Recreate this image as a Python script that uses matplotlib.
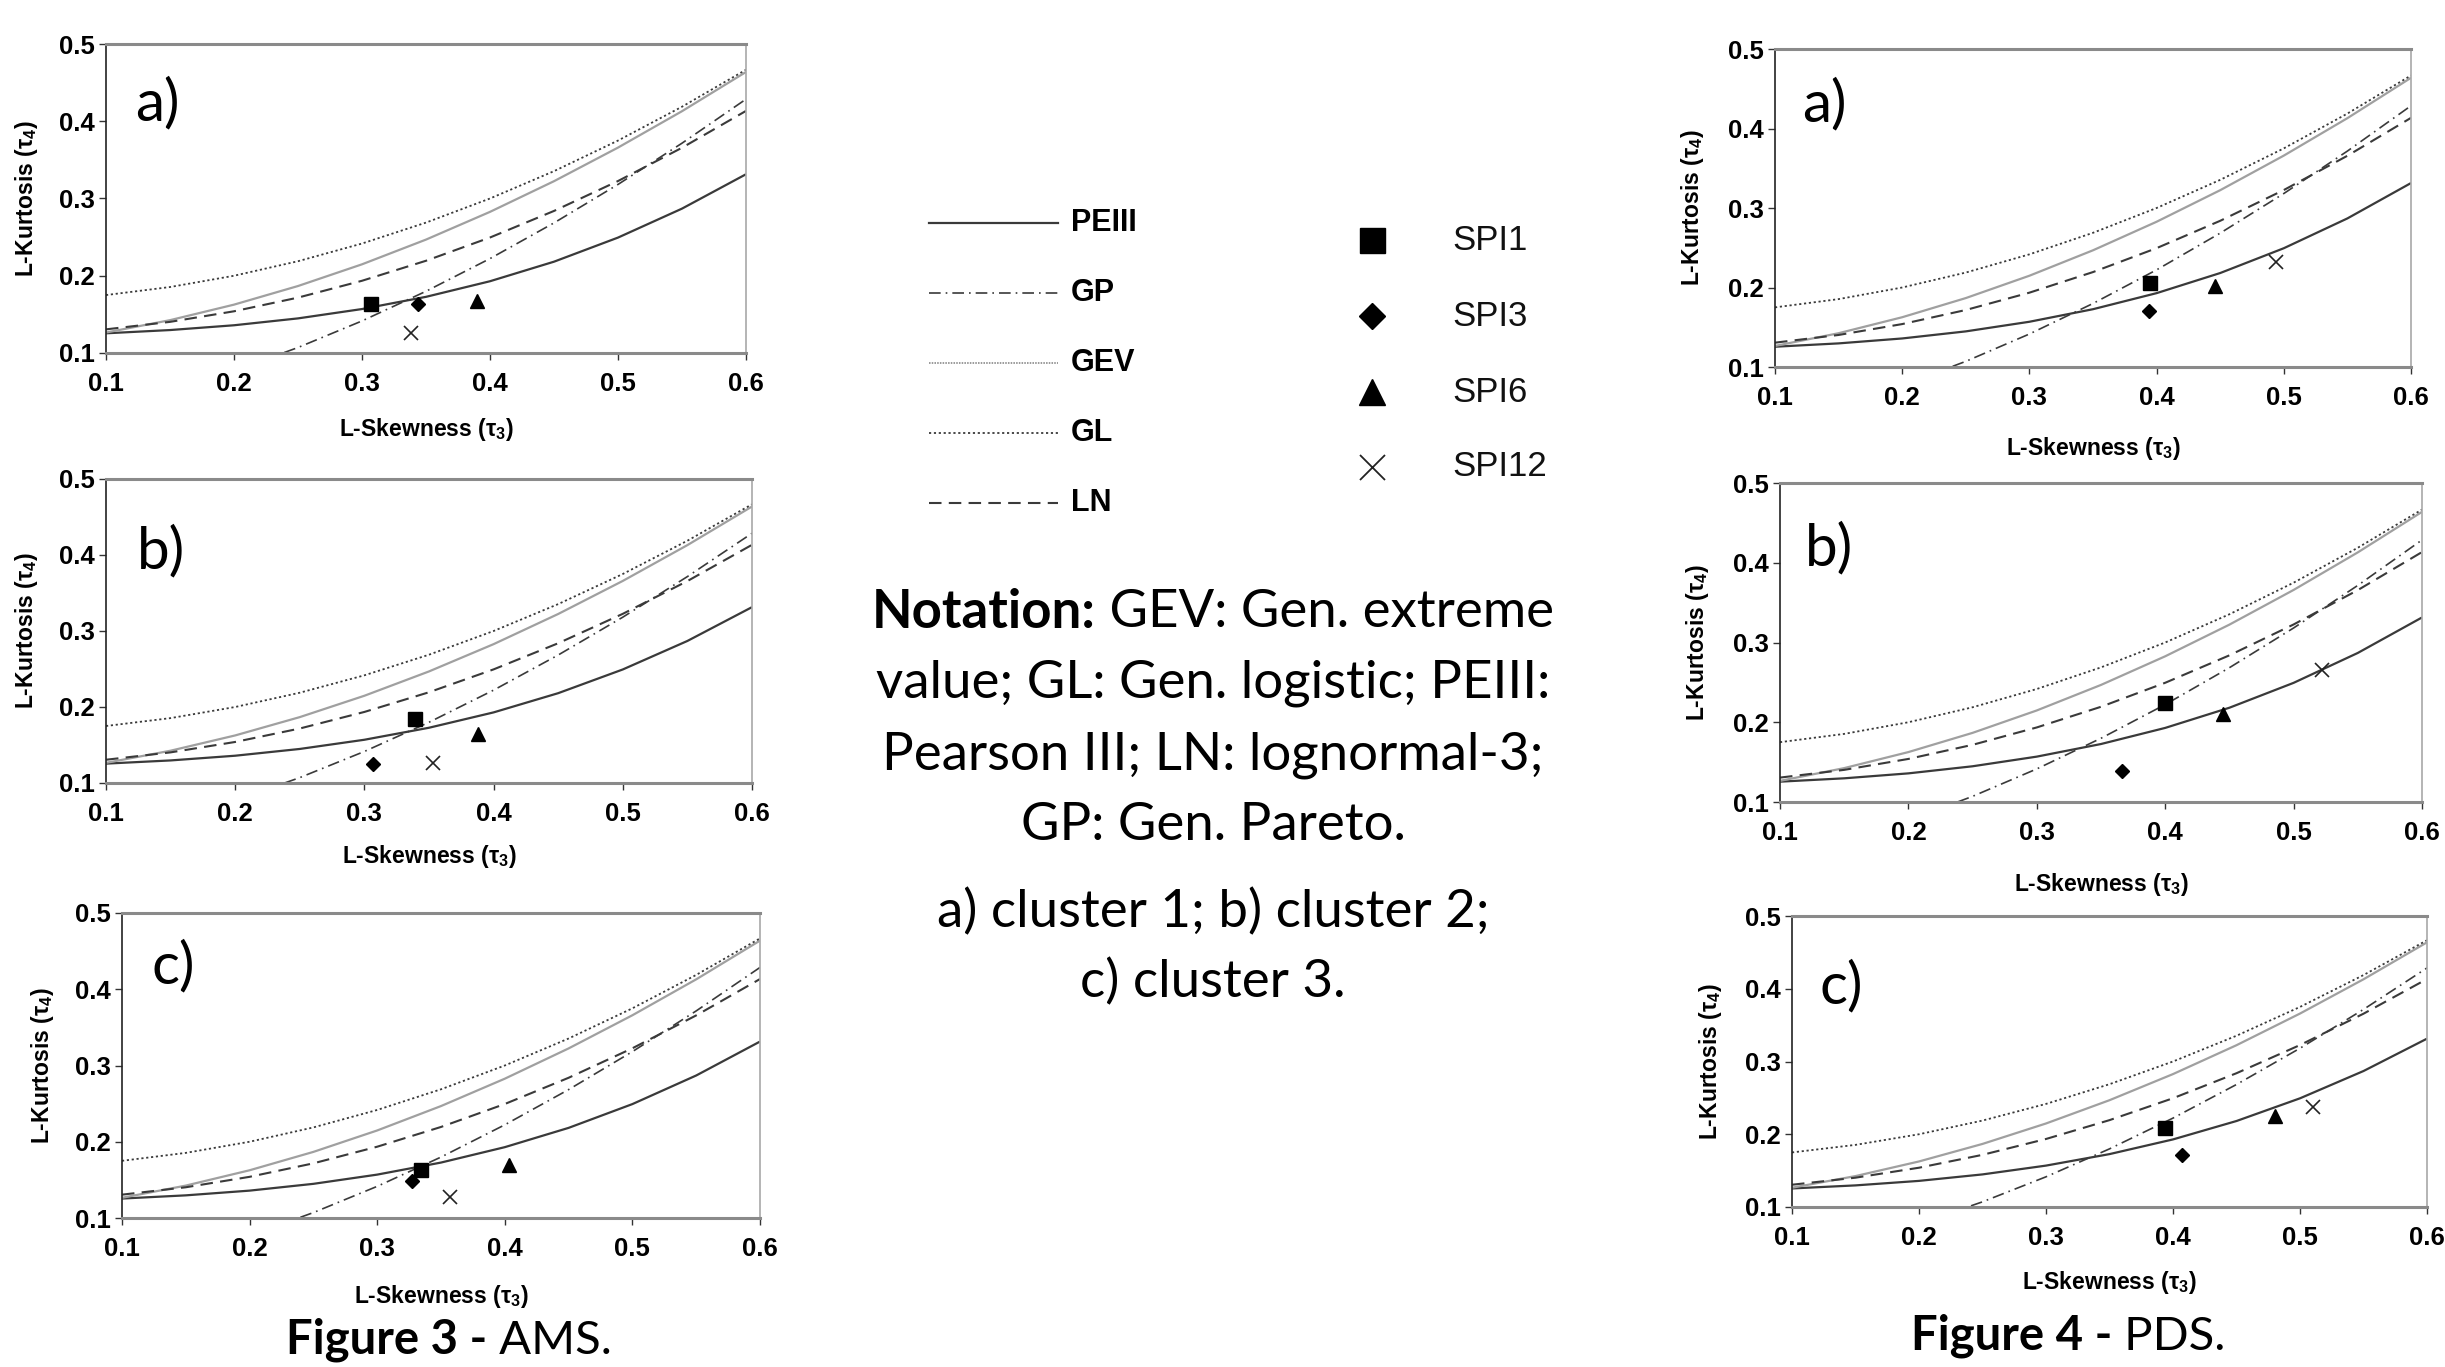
import matplotlib
matplotlib.use("Agg")
import matplotlib.pyplot as plt

# Figure size in pixels (dpi 100)
W, H = 2445, 1367

# L-moment ratio curves read at tau3 = 0.10 ... 0.60
TAU3 = [0.10, 0.15, 0.20, 0.25, 0.30, 0.35, 0.40, 0.45, 0.50, 0.55, 0.60]
PE3_T4 = [0.1255, 0.1297, 0.1359, 0.1448, 0.1569, 0.1727, 0.1929, 0.2182, 0.2494, 0.2869, 0.3314]
GP_T4 = [0.0294, 0.0510, 0.0769, 0.1071, 0.1415, 0.1799, 0.2222, 0.2684, 0.3182, 0.3716, 0.4286]
GEV_T4 = [0.1265, 0.1425, 0.1626, 0.1867, 0.2148, 0.2468, 0.2827, 0.3224, 0.3659, 0.4130, 0.4638]
GL_T4 = [0.1750, 0.1854, 0.2000, 0.2188, 0.2417, 0.2688, 0.3000, 0.3354, 0.3750, 0.4188, 0.4667]
LN_T4 = [0.1306, 0.1403, 0.1540, 0.1717, 0.1935, 0.2194, 0.2495, 0.2839, 0.3226, 0.3657, 0.4134]

# sample points, order: SPI1, SPI3, SPI6, SPI12
SPI_NAMES = ["SPI1", "SPI3", "SPI6", "SPI12"]
AMS_A_T3 = [0.307, 0.344, 0.390, 0.338]
AMS_A_T4 = [0.164, 0.163, 0.167, 0.126]
AMS_B_T3 = [0.339, 0.307, 0.388, 0.353]
AMS_B_T4 = [0.184, 0.125, 0.165, 0.126]
AMS_C_T3 = [0.334, 0.327, 0.403, 0.357]
AMS_C_T4 = [0.163, 0.149, 0.169, 0.128]
PDS_A_T3 = [0.395, 0.394, 0.446, 0.494]
PDS_A_T4 = [0.206, 0.171, 0.202, 0.232]
PDS_B_T3 = [0.400, 0.366, 0.445, 0.522]
PDS_B_T4 = [0.224, 0.139, 0.210, 0.265]
PDS_C_T3 = [0.394, 0.407, 0.480, 0.510]
PDS_C_T4 = [0.208, 0.171, 0.225, 0.237]

X_TICKS = [0.1, 0.2, 0.3, 0.4, 0.5, 0.6]
Y_TICKS = [0.1, 0.2, 0.3, 0.4, 0.5]

plt.rcParams["mathtext.default"] = "regular"

AX_FONT = ["Liberation Sans", "DejaVu Sans"]
TXT_FONT = ["Lato", "DejaVu Sans"]
DARK = "#3a3a3a"

CURVES = [
    ("PEIII", PE3_T4, dict(color=DARK, lw=1.6, ls="-")),
    ("GP", GP_T4, dict(color=DARK, lw=1.2, dashes=(7, 3, 1, 3))),
    ("GEV", GEV_T4, dict(color="#a0a0a0", lw=1.6, ls="-")),
    ("GL", GL_T4, dict(color=DARK, lw=1.3, dashes=(1.2, 1.5))),
    ("LN", LN_T4, dict(color=DARK, lw=1.5, dashes=(6, 3.5))),
]
MARKERS = [("s", 10), ("D", 7), ("^", 10), ("x", 10)]


def px_axes(fig, l, r, t, b):
    return fig.add_axes([l / W, 1 - b / H, (r - l) / W, (b - t) / H])


def draw_panel(fig, box, t3, t4, letter, letter_pos, xlab_off, ylab_off):
    l, r, t, b = box
    ax = px_axes(fig, l, r, t, b)
    for _, vals, style in CURVES:
        ax.plot(TAU3, vals, solid_capstyle="butt", **style)
    for (m, ms), x, y in zip(MARKERS, t3, t4):
        if m == "x":
            ax.plot(x, y, marker=m, ms=ms, color="#222222", mew=1.2, ls="none")
        else:
            ax.plot(x, y, marker=m, ms=ms, color="black", ls="none")
    ax.set_xlim(0.1, 0.6)
    ax.set_ylim(0.1, 0.5)
    ax.set_xticks(X_TICKS)
    ax.set_yticks(Y_TICKS)
    ax.set_xticklabels([f"{v:.1f}" for v in X_TICKS])
    ax.set_yticklabels([f"{v:.1f}" for v in Y_TICKS])
    for lab in ax.get_xticklabels() + ax.get_yticklabels():
        lab.set_fontfamily(AX_FONT)
        lab.set_fontweight("bold")
        lab.set_fontsize(18.5)
    ax.tick_params(axis="x", direction="out", length=5, width=1, pad=9, color="#333333")
    ax.tick_params(axis="y", direction="out", length=5, width=1, pad=3, color="#333333")
    ax.spines["left"].set_color("#222222")
    ax.spines["left"].set_linewidth(1.2)
    ax.spines["bottom"].set_color("#8a8a8a")
    ax.spines["bottom"].set_linewidth(2.2)
    ax.spines["top"].set_color("#8a8a8a")
    ax.spines["top"].set_linewidth(2.2)
    ax.spines["right"].set_color("#a8a8a8")
    ax.spines["right"].set_linewidth(1.2)

    ax.set_xlabel("L-Skewness (τ$_3$)", fontfamily=AX_FONT, fontweight="bold",
                  fontsize=16.5, va="center")
    ax.xaxis.set_label_coords(0.5, -xlab_off / (b - t))
    ax.set_ylabel("L-Kurtosis (τ$_4$)", fontfamily=AX_FONT, fontweight="bold",
                  fontsize=16.5, va="center")
    ax.yaxis.set_label_coords(-ylab_off / (r - l), 0.5)

    lx, ly = letter_pos
    fig.text(lx / W, 1 - ly / H, letter, fontfamily=TXT_FONT, fontsize=42,
             ha="left", va="top")
    return ax


def mixed_line(fig, renderer, xc, y, bold_part, rest, size, va="center"):
    """Draw a centred line made of a bold part followed by a regular part."""
    tb = fig.text(0, 1 - y / H, bold_part, fontfamily=TXT_FONT, fontweight="bold",
                  fontsize=size, ha="left", va=va)
    tr = fig.text(0, 1 - y / H, rest, fontfamily=TXT_FONT, fontsize=size,
                  ha="left", va=va)
    wb = tb.get_window_extent(renderer).width
    wr = tr.get_window_extent(renderer).width
    x0 = xc - (wb + wr) / 2
    tb.set_x(x0 / W)
    tr.set_x((x0 + wb) / W)


fig = plt.figure(figsize=(W / 100, H / 100), dpi=100)
renderer = fig.canvas.get_renderer()

# Figure 3 - AMS (left column)
draw_panel(fig, (106, 746, 44, 353), AMS_A_T3, AMS_A_T4, "a)", (135, 77), 77, 79)
draw_panel(fig, (106, 752, 479, 783), AMS_B_T3, AMS_B_T4, "b)", (137, 525), 74, 79)
draw_panel(fig, (122, 760, 913, 1218), AMS_C_T3, AMS_C_T4, "c)", (152, 940), 79, 80)

# Figure 4 - PDS (right column)
draw_panel(fig, (1775, 2411, 49, 367), PDS_A_T3, PDS_A_T4, "a)", (1802, 78), 81, 83)
draw_panel(fig, (1780, 2422, 483, 802), PDS_B_T3, PDS_B_T4, "b)", (1805, 522), 83, 83)
draw_panel(fig, (1792, 2427, 916, 1207), PDS_C_T3, PDS_C_T4, "c)", (1820, 960), 76, 82)

# legend drawn on an overlay in pixel coordinates
lg = fig.add_axes([0, 0, 1, 1])
lg.set_xlim(0, W)
lg.set_ylim(H, 0)
lg.axis("off")

line_rows = [223, 293, 363, 433, 503]
for (name, _, style), y in zip(CURVES, line_rows):
    st = dict(style)
    if name == "GEV":
        st = dict(color="#9a9a9a", lw=1.4, dashes=(0.8, 0.6))
    lg.plot([929, 1058], [y, y], **st)
    lg.text(1071, y, name, fontfamily=AX_FONT, fontweight="bold", fontsize=22,
            ha="left", va="center")

marker_rows = [240, 316, 392, 467]
legend_ms = [18, 13, 19, 18]
for (m, _), ms, name, y in zip(MARKERS, legend_ms, SPI_NAMES, marker_rows):
    if m == "x":
        lg.plot(1372, y, marker=m, ms=ms, color="#222222", mew=1.3, ls="none")
    else:
        lg.plot(1372, y, marker=m, ms=ms, color="black", ls="none")
    lg.text(1452, y, name, fontfamily=AX_FONT, fontsize=25, ha="left",
            va="center", color="#111111")

# notation block
NOTE_SIZE = 38
mixed_line(fig, renderer, 1213, 613, "Notation:", " GEV: Gen. extreme", NOTE_SIZE)
notation = [
    ("value; GL: Gen. logistic; PEIII:", 683),
    ("Pearson III; LN: lognormal-3;", 755),
    ("GP: Gen. Pareto.", 826),
    ("a) cluster 1; b) cluster 2;", 912),
    ("c) cluster 3.", 982),
]
for s, y in notation:
    fig.text(1213 / W, 1 - y / H, s, fontfamily=TXT_FONT, fontsize=NOTE_SIZE,
             ha="center", va="center")

# captions
mixed_line(fig, renderer, 449, 1354, "Figure 3 -", " AMS.", 34, va="baseline")
mixed_line(fig, renderer, 2068, 1350, "Figure 4 -", " PDS.", 34, va="baseline")

fig.savefig("out.png", dpi=100, facecolor="white")
